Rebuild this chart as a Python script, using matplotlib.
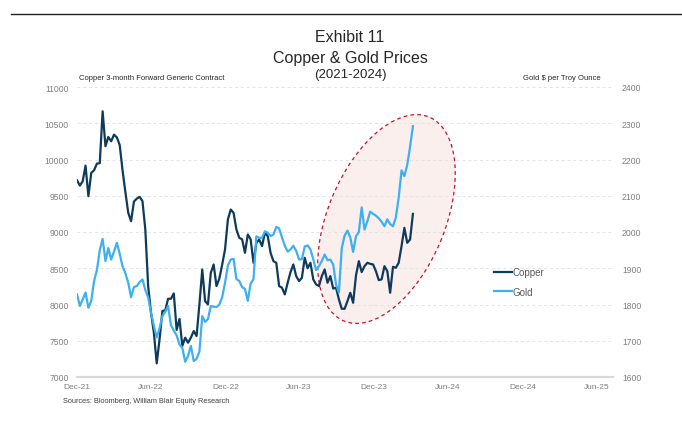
import numpy as np
import pandas as pd
import matplotlib
matplotlib.use("Agg")
import matplotlib.pyplot as plt
import matplotlib.dates as mdates
from matplotlib.patches import Ellipse
from matplotlib.transforms import ScaledTranslation

plt.rcParams["font.family"] = ["Liberation Sans", "DejaVu Sans"]

# ── Data (weekly closes) ────────────────────────────────
START = "2021-12-31"

copper = [
    9714, 9640, 9700, 9916, 9494, 9815, 9852, 9943, 9950, 10665,
    10182, 10311, 10251, 10343, 10305, 10200, 9850, 9550, 9264, 9149,
    9420, 9460, 9485, 9425, 9034, 8250, 7886, 7611, 7188, 7519,
    7909, 7920, 8079, 8079, 8153, 7650, 7800, 7430, 7542, 7473,
    7542, 7634, 7565, 8000, 8483, 8047, 8001, 8437, 8552, 8254,
    8357, 8550, 8759, 9172, 9310, 9264, 9034, 8920, 8900, 8713,
    8966, 8897, 8575, 8851, 8897, 8805, 8989, 8943, 8713, 8598,
    8575, 8254, 8231, 8139, 8300, 8447, 8552, 8392, 8323, 8368,
    8644, 8500, 8575, 8346, 8277, 8254, 8392, 8483, 8300, 8392,
    8220, 8231, 8070, 7941, 7941, 8047, 8162, 8024, 8400, 8598,
    8447, 8529, 8575, 8561, 8552, 8460, 8337, 8346, 8529, 8460,
    8162, 8520, 8506, 8575, 8805, 9057, 8851, 8897, 9250,
]

gold = [
    1828, 1796, 1814, 1833, 1791, 1810, 1865, 1895, 1950, 1981,
    1920, 1956, 1924, 1946, 1970, 1940, 1905, 1886, 1860, 1820,
    1848, 1851, 1862, 1869, 1840, 1820, 1777, 1741, 1709, 1735,
    1768, 1780, 1796, 1743, 1728, 1715, 1690, 1680, 1642, 1658,
    1686, 1644, 1650, 1670, 1768, 1752, 1760, 1796, 1794, 1793,
    1800, 1820, 1860, 1908, 1924, 1926, 1870, 1865, 1848, 1843,
    1810, 1858, 1870, 1988, 1984, 1984, 2002, 1998, 1989, 1993,
    2014, 2010, 1985, 1962, 1946, 1952, 1962, 1948, 1924, 1925,
    1960, 1963, 1952, 1925, 1895, 1906, 1920, 1938, 1922, 1924,
    1910, 1855, 1833, 1955, 1990, 2004, 1985, 1945, 1988, 2000,
    2068, 2007, 2030, 2056, 2050, 2045, 2038, 2028, 2016, 2035,
    2022, 2016, 2040, 2095, 2170, 2154, 2185, 2235, 2292,
]

dates = pd.date_range(START, periods=len(copper), freq="7D")

COPPER_TICKS = np.arange(7000, 11001, 500)
GOLD_TICKS = np.arange(1600, 2401, 100)
X_TICKS = pd.date_range(START, "2025-06-30", freq="6ME")

COPPER_C = "#0e3a5c"
GOLD_C = "#3cb0f0"
GREY = "#7f7f7f"
GRID_C = "#e3e3e3"

# ── Figure ────────────────────────────────────────────────────────────────────
fig = plt.figure(figsize=(6.82, 4.27), dpi=100)
fig.patch.set_facecolor("white")

ax = fig.add_axes([77/682, 49/427, 536/682, 290/427])
ax2 = ax.twinx()

l1, = ax.plot(dates, copper, color=COPPER_C, lw=1.6, label="Copper", zorder=3)
l2, = ax2.plot(dates, gold, color=GOLD_C, lw=1.6, label="Gold", zorder=3)

ax.set_xlim(pd.Timestamp(START), pd.Timestamp("2025-08-10"))
ax.set_ylim(7000, 11000)
ax2.set_ylim(1600, 2400)
ax.set_yticks(COPPER_TICKS)
ax2.set_yticks(GOLD_TICKS)
ax.set_xticks(X_TICKS)
ax.xaxis.set_major_formatter(mdates.DateFormatter("%b-%y"))

ax.set_axisbelow(True)
ax.yaxis.grid(True, color=GRID_C, lw=0.7, ls=(0, (3, 3)))

for a in (ax, ax2):
    for s in ("top", "left", "right"):
        a.spines[s].set_visible(False)
    a.spines["bottom"].set_color("#d9d9d9")
    a.spines["bottom"].set_linewidth(1.5)
    a.tick_params(length=0, labelcolor=GREY)
ax.tick_params(axis="y", labelsize=6.2, pad=5.8)
ax2.tick_params(axis="y", labelsize=6.2, pad=6.5)
ax.tick_params(axis="x", labelsize=6, pad=4.3)

# highlight ellipse around the 2024 run-up (size in inches, centred on data)
centre = ScaledTranslation(mdates.date2num(pd.Timestamp("2024-01-31")), 9179,
                           ax.transData)
ell = Ellipse((0, 0), 2.21, 1.17, angle=67.3,
              transform=fig.dpi_scale_trans + centre,
              facecolor="#fbefee", edgecolor="#c8102e", lw=0.9,
              ls=(0, (3, 2.5)), zorder=0.4)
ax.add_patch(ell)

# ── Titles & notes ────────────────────────────────────────────────────────────
fig.add_artist(plt.Line2D([11/682, 1], [412/427, 412/427], color="#222222",
                          lw=1.0))
fig.text(350/682, 1 - 38/427, "Exhibit 11", ha="center", va="center",
         fontsize=11.5, color="#262626")
fig.text(350/682, 1 - 58/427, "Copper & Gold Prices", ha="center",
         va="center", fontsize=11.5, color="#262626")
fig.text(350/682, 1 - 75/427, "(2021-2024)", ha="center", va="center",
         fontsize=9.5, color="#262626")
fig.text(79/682, 1 - 79/427, "Copper 3-month Forward Generic Contract",
         ha="left", va="center", fontsize=5.5, color="#262626")
fig.text(601/682, 1 - 79/427, "Gold $ per Troy Ounce", ha="right",
         va="center", fontsize=5.5, color="#262626")
fig.text(63/682, 1 - 402/427, "Sources: Bloomberg, William Blair Equity Research",
         ha="left", va="center", fontsize=5.3, color="#404040")

fig.legend(handles=[l1, l2], loc="center left",
           bbox_to_anchor=(494/682, 1 - 283/427), frameon=False,
           fontsize=7, labelcolor="#595959", handlelength=1.85,
           handletextpad=0.05, labelspacing=1.0, borderpad=0,
           borderaxespad=0)

fig.savefig("out.png", dpi=100)
